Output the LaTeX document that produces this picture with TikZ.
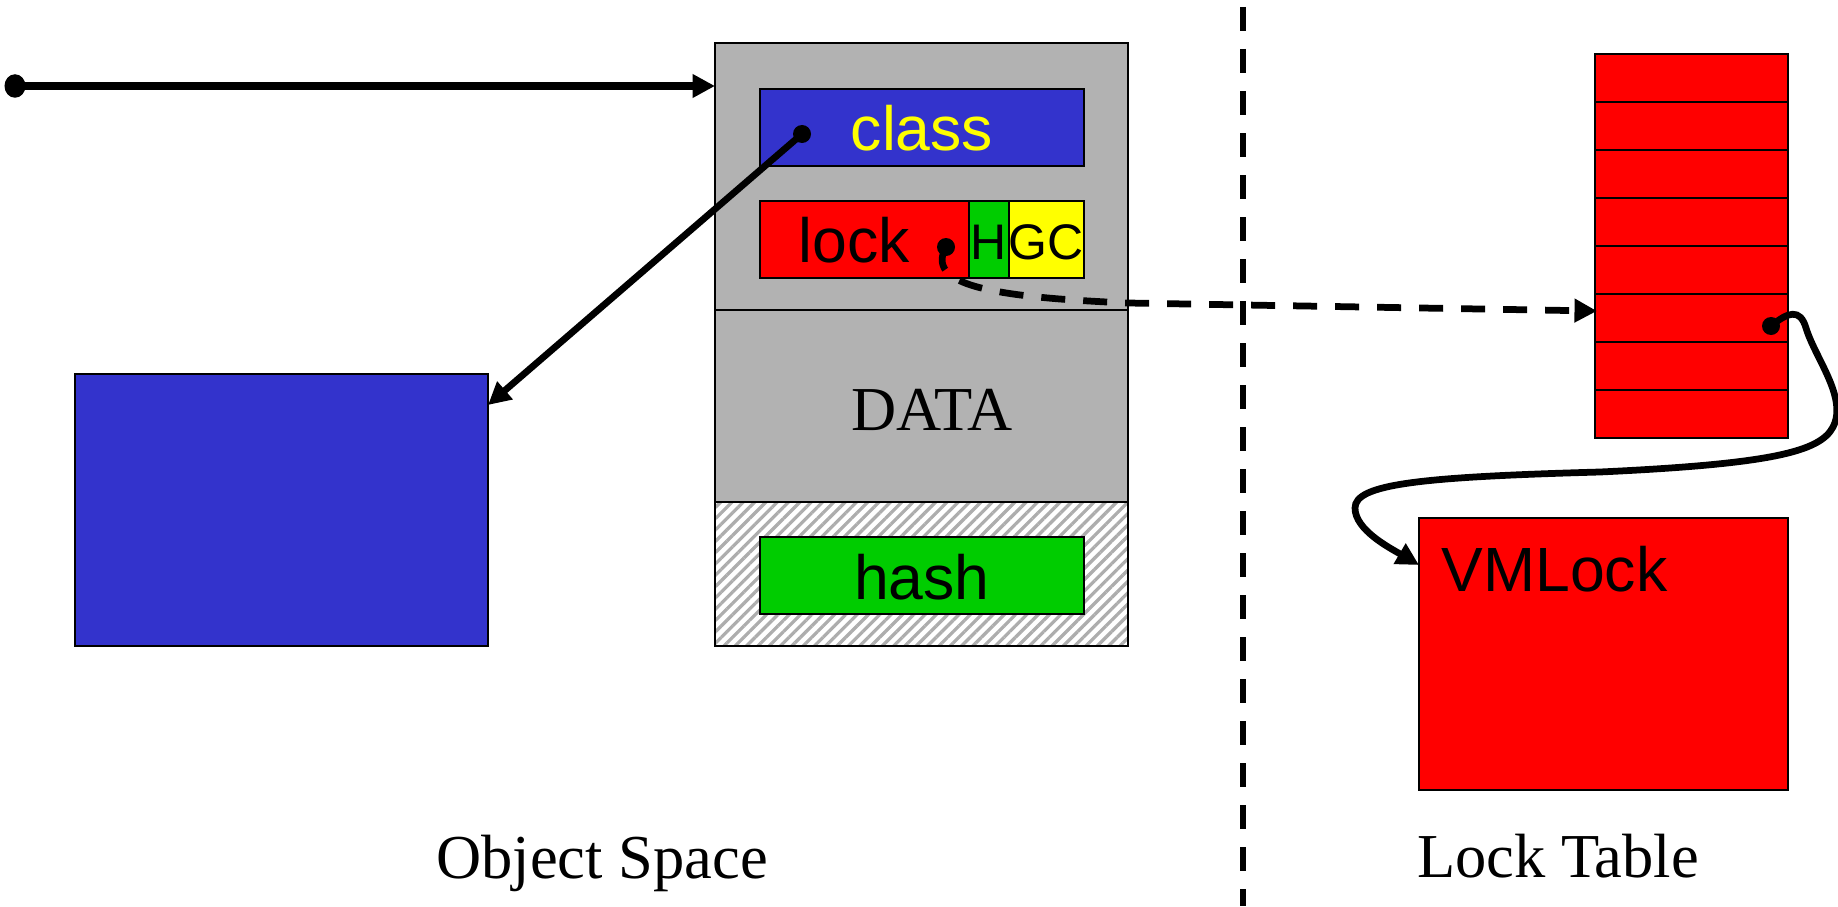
\documentclass[tikz,border=0pt]{standalone}
\usepackage{fontspec}
\setmainfont{Liberation Serif}
\newfontfamily\arialfont{Liberation Sans}
\usetikzlibrary{arrows.meta,fit,patterns.meta,shapes.geometric}
\definecolor{cellgray}{HTML}{B2B2B2}
\definecolor{classblue}{HTML}{3333CC}
\definecolor{lockred}{HTML}{FF0000}
\definecolor{hashgreen}{HTML}{00CC00}
\definecolor{gcyellow}{HTML}{FFFF00}
\begin{document}
\begin{tikzpicture}[x=0.4pt,y=-0.4pt,
  cell/.style={draw=black,line width=0.9pt,inner sep=0pt,outer sep=0pt},
  lbl/.style={font=\arialfont\fontsize{25}{30}\selectfont,inner sep=0pt,anchor=base},
  smalllbl/.style={font=\arialfont\fontsize{20}{22}\selectfont,inner sep=0pt,anchor=base},
  seriflbl/.style={font=\fontsize{25}{30}\selectfont,inner sep=0pt,anchor=base},
  ptr/.style={line width=2.7pt,-{Triangle[length=9pt,width=9pt]}},
  dashptr/.style={ptr,dash pattern=on 9.6pt off 7.2pt},
  divider/.style={line width=2.3pt,dash pattern=on 9.6pt off 7.2pt},
  dotc/.style={fill=black,circle,inner sep=0pt,minimum size=7.2pt}
]
\useasboundingbox (0,0) rectangle (1838,906);

% object layout: header, data, hashed trailer
\node[cell,fill=cellgray,fit={(715,43) (1128,310)}] (objtop) {};
\node[cell,fill=cellgray,fit={(715,310) (1128,502)}] (objdata) {};
\node[cell,fill=white,fit={(715,502) (1128,646)}] (objhash) {};
\fill[pattern={Lines[angle=45,distance=3.2pt,line width=1.3pt]},pattern color=black!32]
  (objhash.north west) rectangle (objhash.south east);
\draw[line width=0.9pt] (objhash.north west) rectangle (objhash.south east);

\node[cell,fill=classblue,fit={(760,89) (1084,166)}] (classbox) {};
\node[cell,fill=lockred,fit={(760,201) (969,278)}] (lockbox) {};
\node[cell,fill=hashgreen,fit={(969,201) (1009,278)}] (hbox) {};
\node[cell,fill=gcyellow,fit={(1009,201) (1084,278)}] (gcbox) {};
\node[cell,fill=hashgreen,fit={(760,537) (1084,614)}] (hashbox) {};

\node[lbl,text=gcyellow] (classtxt) at (922,150) {class};
\node[lbl,anchor=base west] (locktxt) at (798,262) {lock};
\node[smalllbl] (htxt) at (989,259) {H};
\node[smalllbl] (gctxt) at (1046,259) {GC};
\node[lbl] (hashtxt) at (922,599) {hash};
\node[seriflbl] (datatxt) at (932,430) {DATA};

% class object
\node[cell,fill=classblue,fit={(75,374) (488,646)}] (bluebox) {};

% lock table
\foreach \i in {0,...,7}
  \node[cell,fill=lockred,fit={(1595,{54+48*\i}) (1788,{102+48*\i})}] (row\i) {};

% VM lock record
\node[cell,fill=lockred,fit={(1419,518) (1788,790)}] (vmlock) {};
\node[lbl,anchor=base west] (vmtxt) at (1441,591) {VMLock};

% captions
\node[seriflbl] (objcap) at (602,878) {Object Space};
\node[seriflbl] (tblcap) at (1558,877) {Lock Table};

% divider
\coordinate (divtop) at (1243,7);
\coordinate (divbot) at (1243,906);
\draw[divider] (divtop) -- (divbot);

% pointers
\node[fill=black,ellipse,inner sep=0pt,minimum width=8.4pt,minimum height=9.4pt] (srcdot) at (15,86) {};
\draw[ptr,line width=3pt] (srcdot.center) -- (srcdot.center -| objtop.west);

\node[dotc] (classdot) at (802,134) {};
\coordinate (bluehit) at (488,405);
\draw[ptr] (classdot.center) -- (bluehit);

\node[dotc] (lockdot) at (946,247) {};
\coordinate (tablehit) at (1597,311);
\draw[dashptr] (lockdot.center) .. controls (925,285) and (990,297) .. (1128,303) -- (tablehit);

\node[dotc] (tdot) at (1771,326) {};
\coordinate (vmhit) at (1419,565);
\draw[ptr] (tdot.center) .. controls (1788,312) and (1800,308) .. (1806,328)
  .. controls (1815,358) and (1848,398) .. (1833,427)
  .. controls (1820,452) and (1770,464) .. (1600,472)
  .. controls (1420,477) and (1355,484) .. (1355,508)
  .. controls (1355,530) and (1390,548) .. (vmhit);
\end{tikzpicture}
\end{document}
